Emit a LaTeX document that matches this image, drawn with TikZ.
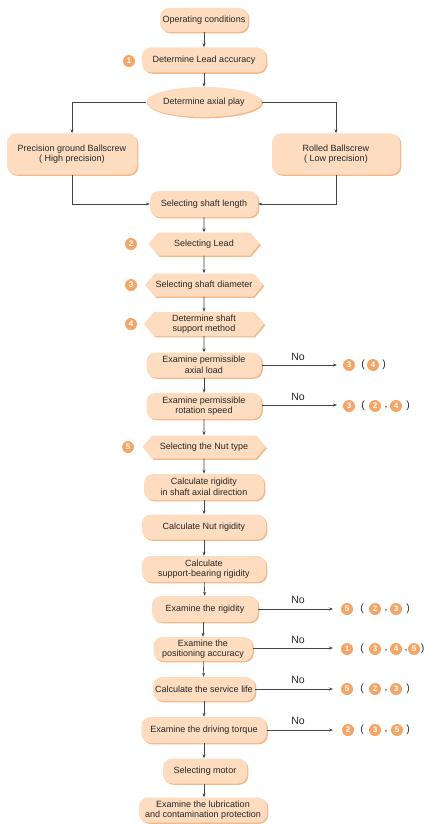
\documentclass[tikz,border=0pt]{standalone}
\usepackage{fontspec}
\setmainfont{Liberation Sans}
\usetikzlibrary{shapes.geometric,shapes.symbols,shadows,arrows.meta}
\definecolor{boxfill}{HTML}{FDDCC0}
\definecolor{shd}{HTML}{F4B887}
\definecolor{circ}{HTML}{F5A566}
\definecolor{lin}{HTML}{444444}
\begin{document}
\begin{tikzpicture}[x=1pt,y=-1pt,
  every node/.style={font=\fontsize{9}{10.5}\selectfont, text=black!85},
  sh/.style={drop shadow={shadow xshift=1.3pt,shadow yshift=-1.3pt,fill=shd,opacity=1}},
  rbox/.style={sh,fill=boxfill,rounded corners=9pt,inner sep=1pt,align=center},
  hexbox/.style={sh,fill=boxfill,signal,signal to=east and west,signal pointer angle=100,inner sep=1pt,align=center},
  ellbox/.style={sh,fill=boxfill,ellipse,inner sep=0pt},
  num/.style={circle,fill=circ,text=white,inner sep=0pt,minimum size=12pt,font=\fontsize{8}{8}\selectfont\bfseries},
  par/.style={inner sep=0pt,font=\fontsize{10.5}{11}\selectfont},
  nolab/.style={inner sep=0pt,font=\fontsize{10.5}{11}\selectfont},
  arr/.style={draw=lin,line width=0.6pt,-{Stealth[length=4pt,width=3pt]}},
  ln/.style={draw=lin,line width=0.6pt}
]
\useasboundingbox (0,0) rectangle (425,824);

\node[rbox,minimum width=88pt,minimum height=24pt] (op) at (204,20) {Operating conditions};
\node[rbox,minimum width=124pt,minimum height=25pt] (acc) at (204,60) {Determine Lead accuracy};
\node[ellbox,minimum width=115pt,minimum height=30pt] (play) at (204,102) {Determine axial play};
\node[rbox,minimum width=130pt,minimum height=41pt] (prec) at (72,154) {Precision ground Ballscrew\\( High precision)};
\node[rbox,minimum width=128pt,minimum height=41pt] (roll) at (336,154) {Rolled Ballscrew\\( Low precision)};
\node[rbox,minimum width=108pt,minimum height=26pt] (len) at (204,204) {Selecting shaft length};
\node[hexbox,minimum width=111pt,minimum height=23pt] (lead) at (204,244) {Selecting Lead};
\node[hexbox,minimum width=110pt,minimum height=23pt] (dia) at (204,285) {Selecting shaft diameter};
\node[hexbox,minimum width=120pt,minimum height=24pt] (supp) at (204,324) {Determine shaft\\support method};
\node[rbox,minimum width=115pt,minimum height=25pt] (axl) at (204,365) {Examine permissible\\axial load};
\node[rbox,minimum width=115pt,minimum height=26pt] (rot) at (204,406) {Examine permissible\\rotation speed};
\node[hexbox,minimum width=123pt,minimum height=23pt] (nut) at (204,447) {Selecting the Nut type};
\node[rbox,minimum width=120pt,minimum height=26pt] (rax) at (204,487) {Calculate rigidity\\in shaft axial direction};
\node[rbox,minimum width=124pt,minimum height=25pt] (rnut) at (204,527) {Calculate Nut rigidity};
\node[rbox,minimum width=124pt,minimum height=26pt] (rsup) at (204,569) {Calculate\\support-bearing rigidity};
\node[rbox,minimum width=106pt,minimum height=26pt] (rig) at (205,609) {Examine the rigidity};
\node[rbox,minimum width=99pt,minimum height=24pt] (pos) at (203,649) {Examine the\\positioning accuracy};
\node[rbox,minimum width=102pt,minimum height=24pt] (life) at (204,689) {Calculate the service life};
\node[rbox,minimum width=125pt,minimum height=26pt] (torq) at (204,730) {Examine the driving torque};
\node[rbox,minimum width=84pt,minimum height=25pt] (motor) at (205,771) {Selecting motor};
\node[rbox,minimum width=128pt,minimum height=25pt] (lub) at (203,810) {Examine the lubrication\\and contamination protection};

% step numbers on the left
\node[num] (n1) at (129,61) {1};
\node[num] (n2) at (131,244) {2};
\node[num] (n3) at (131,285) {3};
\node[num] (n4) at (131,324) {4};
\node[num] (n5) at (128,447) {5};

% main vertical arrows
\draw[arr] (op) -- (acc);
\draw[arr] (acc) -- (play);
\draw[arr] (len) -- (lead);
\draw[arr] (lead) -- (dia);
\draw[arr] (dia) -- (supp);
\draw[arr] (supp) -- (axl);
\draw[arr] (axl) -- (rot);
\draw[arr] (rot) -- (nut);
\draw[arr] (nut) -- (rax);
\draw[arr] (rax) -- (rnut);
\draw[arr] (rnut) -- (rsup);
\draw[arr] (rsup) -- (rig);
\draw[arr] (rig.south -| pos) -- (pos);
\draw[arr] (pos) -- (life);
\draw[arr] (life) -- (torq);
\draw[arr] (torq) -- (motor.north -| torq);
\draw[arr] (motor.south -| torq) -- (lub.north -| torq);

% branches
\draw[arr] (play.west) -| (prec.north);
\draw[arr] (play.east) -| (roll.north);
\draw[arr] (prec.south) |- (len.west);
\draw[arr] (roll.south) |- (len.east);

% No branches
\coordinate (e1) at (337,365);
\coordinate (e2) at (337,405);
\coordinate (e3) at (333,609);
\coordinate (e4) at (333,648);
\coordinate (e5) at (333,689);
\coordinate (e6) at (333,730);
\draw[arr] (axl.east) -- (e1);
\draw[arr] (rot.east |- e2) -- (e2);
\draw[arr] (rig.east) -- (e3);
\draw[arr] (pos.east |- e4) -- (e4);
\draw[arr] (life.east) -- (e5);
\draw[arr] (torq.east) -- (e6);
\node[nolab] (no1) at (298,357) {No};
\node[nolab] (no2) at (298,397) {No};
\node[nolab] (no3) at (298,600) {No};
\node[nolab] (no4) at (298,640) {No};
\node[nolab] (no5) at (298,680) {No};
\node[nolab] (no6) at (298,721) {No};

% row 1
\node[num] (a1) at (349,365) {3};
\node[par] (a2) at (363,365) {(};
\node[num] (a3) at (373,365) {4};
\node[par] (a4) at (384,365) {)};
% row 2
\node[num] (b1) at (349,406) {3};
\node[par] (b2) at (363,406) {(};
\node[num] (b3) at (375,406) {2};
\node[par] (b4) at (386,408) {,};
\node[num] (b5) at (396,406) {4};
\node[par] (b6) at (408,406) {)};
% row 3
\node[num] (c1) at (347,609) {5};
\node[par] (c2) at (362,609) {(};
\node[num] (c3) at (375,609) {2};
\node[par] (c4) at (386,611) {,};
\node[num] (c5) at (396,609) {3};
\node[par] (c6) at (408,609) {)};
% row 4
\node[num] (d1) at (347,649) {1};
\node[par] (d2) at (362,649) {(};
\node[num] (d3) at (375,649) {3};
\node[par] (d4) at (386,651) {,};
\node[num] (d5) at (396,649) {4};
\node[par] (d6) at (406,651) {,};
\node[num] (d7) at (414,649) {5};
\node[par] (d8) at (422.5,649) {)};
% row 5
\node[num] (f1) at (347,689) {5};
\node[par] (f2) at (362,689) {(};
\node[num] (f3) at (375,689) {2};
\node[par] (f4) at (386,691) {,};
\node[num] (f5) at (396,689) {3};
\node[par] (f6) at (408,689) {)};
% row 6
\node[num] (g1) at (348,730) {2};
\node[par] (g2) at (362,730) {(};
\node[num] (g3) at (375,730) {3};
\node[par] (g4) at (386,732) {,};
\node[num] (g5) at (397,730) {5};
\node[par] (g6) at (408,730) {)};
\end{tikzpicture}
\end{document}
